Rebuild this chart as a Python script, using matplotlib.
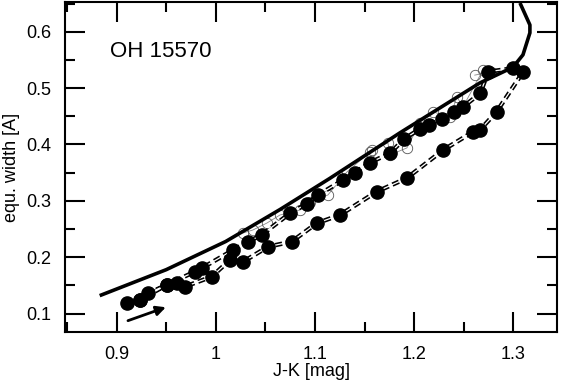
import matplotlib
matplotlib.use("Agg")
import matplotlib.pyplot as plt
from matplotlib.ticker import MultipleLocator

plt.rcParams['font.family'] = ['Liberation Sans', 'DejaVu Sans']

# model curve (thick solid)
model_x = [0.883, 0.95, 1.01, 1.065, 1.115, 1.185, 1.266, 1.2995, 1.3096, 1.3166, 1.3166, 1.3066]
model_y = [0.132, 0.178, 0.228, 0.285, 0.340, 0.420, 0.509, 0.537, 0.559, 0.598, 0.612, 0.651]

# filled circles: loop (lower branch up, upper branch back down)
loop_x = [0.9101, 0.9235, 0.9319, 0.9504, 0.9605, 0.9688, 0.9958, 1.0142, 1.0276, 1.0528,
          1.0764, 1.1016, 1.1251, 1.1621, 1.1923, 1.2292, 1.2595, 1.2662, 1.2831, 1.3099,
          1.2998, 1.2746, 1.2666, 1.2494, 1.2400, 1.2280, 1.2150, 1.2060, 1.1900, 1.1755,
          1.1555, 1.1400, 1.1284, 1.1032, 1.0915, 1.0747, 1.0462, 1.0327, 1.0175, 0.9857,
          0.9789, 0.9504, 0.9235]
loop_y = [0.1184, 0.1244, 0.1362, 0.1509, 0.1539, 0.1479, 0.1656, 0.1952, 0.1922, 0.2188,
          0.2277, 0.2603, 0.2750, 0.3163, 0.3401, 0.3902, 0.4227, 0.4257, 0.4582, 0.5291,
          0.5351, 0.5291, 0.4908, 0.4670, 0.4580, 0.4450, 0.4350, 0.4280, 0.4100, 0.3844,
          0.3680, 0.3500, 0.3371, 0.3105, 0.2945, 0.2780, 0.2395, 0.2277, 0.2129, 0.1805,
          0.1745, 0.1509, 0.1244]

# open circles (upper branch)
open_x = [1.0273, 1.0374, 1.0516, 1.0647, 1.0848, 1.0949, 1.1130, 1.1322, 1.1554, 1.1574,
          1.1735, 1.1755, 1.1926, 1.2058, 1.2189, 1.2360, 1.2431, 1.2491, 1.2693, 1.2733,
          1.2775, 1.2610]
open_y = [0.2430, 0.2484, 0.2608, 0.2750, 0.2839, 0.2981, 0.3105, 0.3513, 0.3868, 0.3904,
          0.4028, 0.3815, 0.3939, 0.4383, 0.4578, 0.4489, 0.4844, 0.4666, 0.5321, 0.5268,
          0.5290, 0.5230]

arrow_start = (0.9115, 0.0876)
arrow_end = (0.9497, 0.1114)

fig = plt.figure(figsize=(5.65, 3.9), dpi=100)
ax = fig.add_axes([0.115, 0.1487, 0.871, 0.8462])

ax.plot(open_x, open_y, color='#888888', lw=0.6, zorder=2)
ax.plot(open_x, open_y, 'o', ms=7.5, mfc='none', mec='#555555', mew=0.6, zorder=2)

ax.plot(loop_x, loop_y, color='black', lw=3.2, dashes=(1.6, 0.9), zorder=3)
ax.plot(loop_x, loop_y, color='white', lw=0.9, zorder=3.1)
ax.plot(loop_x, loop_y, 'o', ms=9.5, color='black', zorder=4)

ax.plot(model_x, model_y, color='black', lw=2.6, zorder=5, solid_capstyle='butt')

ax.annotate('', xy=arrow_end, xytext=arrow_start,
            arrowprops=dict(arrowstyle='-|>', color='black', lw=2, mutation_scale=14,
                            shrinkA=0, shrinkB=0))

ax.text(0.8932, 0.565, 'OH 15570', fontsize=16, va='center', ha='left')

ax.set_xlim(0.848, 1.344)
ax.set_ylim(0.0675, 0.6527)
ax.xaxis.set_minor_locator(MultipleLocator(0.05))
ax.yaxis.set_minor_locator(MultipleLocator(0.05))
ax.set_xticks([0.9, 1.0, 1.1, 1.2, 1.3])
ax.set_xticklabels(['0.9', '1', '1.1', '1.2', '1.3'])
ax.set_yticks([0.1, 0.2, 0.3, 0.4, 0.5, 0.6])
ax.set_yticklabels(['0.1', '0.2', '0.3', '0.4', '0.5', '0.6'])
ax.tick_params(which='both', direction='in', top=True, right=True, width=1.5, labelsize=13)
ax.tick_params(which='major', length=14.5, pad=10)
ax.tick_params(which='minor', length=7.5)
for s in ax.spines.values():
    s.set_linewidth(1.5)

ax.set_xlabel('J-K [mag]', fontsize=13, labelpad=0)
ax.set_ylabel('equ. width [A]', fontsize=13, labelpad=4)

fig.savefig('out.png', dpi=100)
